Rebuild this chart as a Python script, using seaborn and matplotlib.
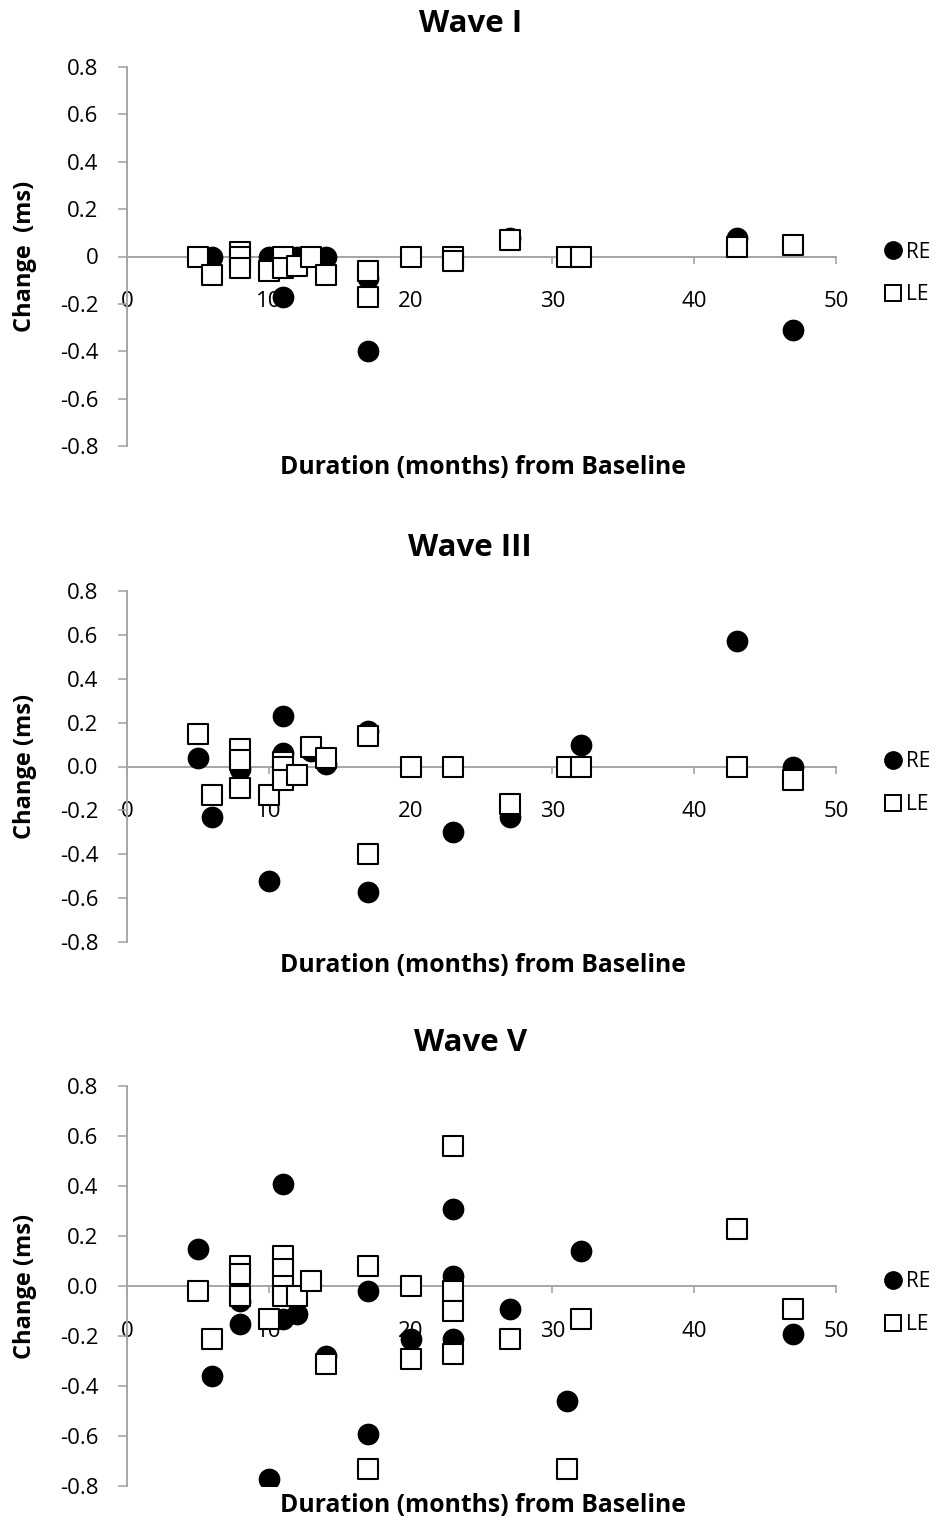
import matplotlib
matplotlib.use("Agg")
import matplotlib.pyplot as plt
from matplotlib.lines import Line2D
import seaborn as sns
import pandas as pd

# Wave I latency change (ms) versus months from baseline
wave1_re_months = [6, 10, 11, 12, 14, 17, 17, 27, 43, 47]
wave1_re_change = [0.0, 0.0, -0.17, 0.0, 0.0, -0.09, -0.40, 0.08, 0.08, -0.31]
wave1_le_months = [5, 6, 8, 8, 8, 10, 11, 11, 12, 13, 14, 17, 17, 20, 23, 23, 27, 31, 32, 43, 47]
wave1_le_change = [0.0, -0.08, 0.02, 0.0, -0.05, -0.06, 0.0, -0.05, -0.04, 0.0, -0.08,
                   -0.06, -0.17, 0.0, 0.0, -0.02, 0.07, 0.0, 0.0, 0.04, 0.05]

# Wave III
wave3_re_months = [5, 6, 8, 10, 11, 11, 13, 14, 17, 17, 23, 27, 32, 43, 47]
wave3_re_change = [0.04, -0.23, -0.01, -0.52, 0.23, 0.06, 0.07, 0.01, 0.16, -0.57,
                   -0.30, -0.23, 0.10, 0.57, 0.0]
wave3_le_months = [5, 6, 8, 8, 8, 10, 11, 11, 11, 12, 13, 14, 17, 17, 20, 23, 27, 31, 32, 43, 47]
wave3_le_change = [0.15, -0.13, 0.08, 0.03, -0.10, -0.13, 0.02, 0.0, -0.06, -0.04, 0.09,
                   0.04, 0.14, -0.40, 0.0, 0.0, -0.17, 0.0, 0.0, 0.0, -0.06]

# Wave V
wave5_re_months = [5, 6, 8, 8, 10, 11, 11, 12, 14, 17, 17, 20, 23, 23, 23, 27, 31, 32, 47]
wave5_re_change = [0.15, -0.36, -0.06, -0.15, -0.77, 0.41, -0.13, -0.11, -0.28, -0.02,
                   -0.59, -0.21, 0.31, 0.04, -0.21, -0.09, -0.46, 0.14, -0.19]
wave5_le_months = [5, 6, 8, 8, 8, 10, 11, 11, 11, 11, 12, 13, 14, 17, 17, 20, 20, 23, 23,
                   23, 23, 27, 31, 32, 43, 47]
wave5_le_change = [-0.02, -0.21, 0.08, 0.05, -0.04, -0.13, 0.12, 0.07, 0.0, -0.04, -0.04,
                   0.02, -0.31, 0.08, -0.73, 0.0, -0.29, 0.56, -0.02, -0.10, -0.27, -0.21,
                   -0.73, -0.13, 0.23, -0.09]

titles = ["Wave I", "Wave III", "Wave V"]
x_ticks = [0, 10, 20, 30, 40, 50]
y_ticks = [0.8, 0.6, 0.4, 0.2, 0.0, -0.2, -0.4, -0.6, -0.8]
y_tick_labels_general = ["0.8", "0.6", "0.4", "0.2", "0", "-0.2", "-0.4", "-0.6", "-0.8"]
y_tick_labels_fixed = ["0.8", "0.6", "0.4", "0.2", "0.0", "-0.2", "-0.4", "-0.6", "-0.8"]
x_label = "Duration (months) from Baseline"
y_labels = ["Change  (ms)", "Change (ms)", "Change (ms)"]

sns.set_theme(style="white")
plt.rcParams["font.family"] = ["Open Sans", "DejaVu Sans"]
plt.rcParams["text.color"] = "black"
plt.rcParams["axes.labelcolor"] = "black"
plt.rcParams["axes.titlecolor"] = "black"

W, H = 946, 1523
fig = plt.figure(figsize=(W / 100, H / 100), dpi=100)

# axes boxes in pixel terms: (top, bottom)
boxes = [(67, 446), (591, 942), (1086, 1486)]
left_px, right_px = 127, 836
legend_y = [0.455, 0.452, 0.4575]
xlabel_gap = [21, 23, 19]

panels = [
    (wave1_re_months, wave1_re_change, wave1_le_months, wave1_le_change, y_tick_labels_general),
    (wave3_re_months, wave3_re_change, wave3_le_months, wave3_le_change, y_tick_labels_fixed),
    (wave5_re_months, wave5_re_change, wave5_le_months, wave5_le_change, y_tick_labels_fixed),
]

grey = "#a6a6a6"

for i, (re_m, re_c, le_m, le_c, ylabels) in enumerate(panels):
    top, bottom = boxes[i]
    ax = fig.add_axes([left_px / W, 1 - bottom / H, (right_px - left_px) / W, (bottom - top) / H])

    re_df = pd.DataFrame({"months": re_m, "change": re_c, "ear": "RE"})
    le_df = pd.DataFrame({"months": le_m, "change": le_c, "ear": "LE"})

    sns.scatterplot(data=re_df, x="months", y="change", marker="o", color="black",
                    s=245, linewidth=0, ax=ax, zorder=3, legend=False)
    sns.scatterplot(data=le_df, x="months", y="change", marker="s", color="white",
                    edgecolor="black", linewidth=1.5, s=225, ax=ax, zorder=4, legend=False)

    ax.set_xlim(0, 50)
    ax.set_ylim(-0.8, 0.8)
    ax.set_xticks(x_ticks)
    ax.set_xticklabels([str(t) for t in x_ticks])
    ax.set_yticks(y_ticks)
    ax.set_yticklabels(ylabels)

    for side in ("top", "right"):
        ax.spines[side].set_visible(False)
    ax.spines["bottom"].set_position(("data", 0))
    ax.spines["bottom"].set_color(grey)
    ax.spines["bottom"].set_linewidth(1.4)
    ax.spines["left"].set_color(grey)
    ax.spines["left"].set_linewidth(1.4)
    ax.set_facecolor("none")

    ax.tick_params(axis="x", direction="out", length=5, width=1.2, color=grey,
                   labelsize=16, pad=20, labelcolor="black", bottom=True)
    ax.tick_params(axis="y", direction="out", length=6.5, width=1.2, color=grey,
                   labelsize=16, pad=14, labelcolor="black", left=True)
    for lbl in ax.get_xticklabels():
        lbl.set_zorder(2)

    ax.set_title(titles[i], fontsize=22.5, fontweight="bold", pad=25, x=0.484)

    ax.set_xlabel(x_label, fontsize=17.8, fontweight="bold")
    ax.xaxis.set_label_coords(0.502, -xlabel_gap[i] / (bottom - top))
    ax.xaxis.label.set_verticalalignment("center")

    ax.set_ylabel(y_labels[i], fontsize=17, fontweight="bold")
    ax.yaxis.set_label_coords(-102 / (right_px - left_px), 0.5)
    ax.yaxis.label.set_verticalalignment("center")

    handles = [
        Line2D([], [], marker="o", linestyle="none", color="black", markersize=12.5),
        Line2D([], [], marker="s", linestyle="none", markerfacecolor="white",
               markeredgecolor="black", markeredgewidth=1.4, markersize=11.5),
    ]
    ax.legend(handles, ["RE", "LE"], loc="center left",
              bbox_to_anchor=(1.066, legend_y[i]), frameon=False, fontsize=15,
              handlelength=1.0, handletextpad=0.1, labelspacing=1.05,
              borderpad=0, borderaxespad=0)

fig.savefig("out.png", dpi=100, facecolor="white")
